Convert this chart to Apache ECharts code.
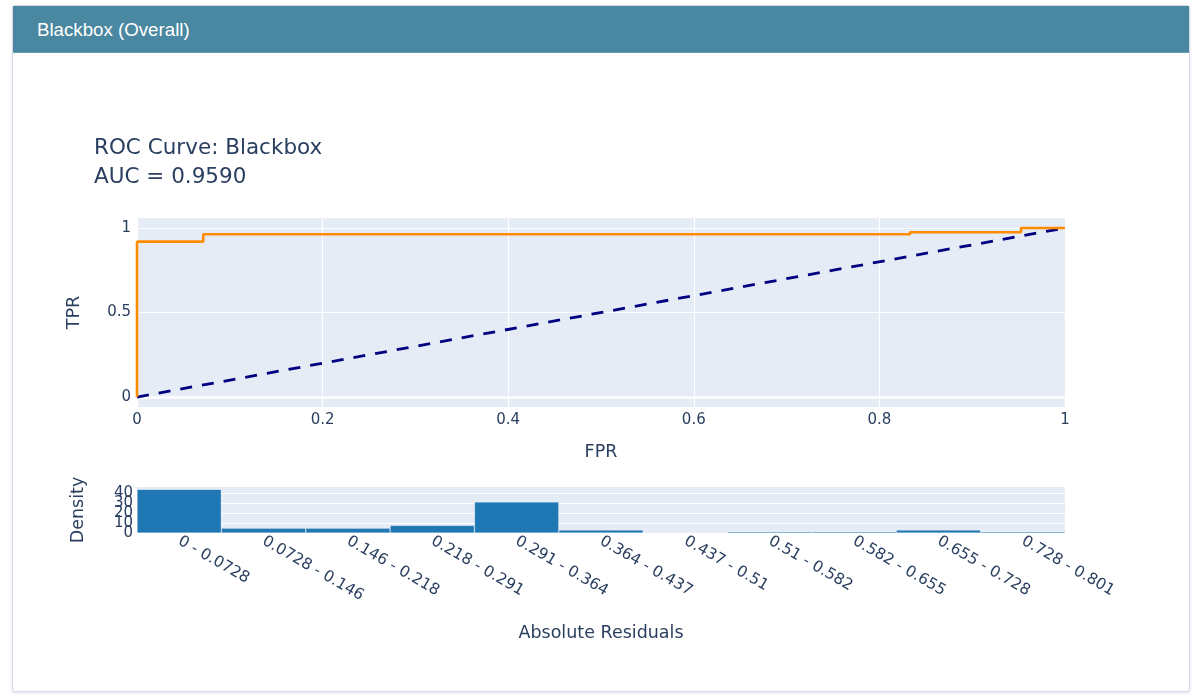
<!DOCTYPE html>
<html>
<head>
<meta charset="utf-8">
<script src="https://cdn.jsdelivr.net/npm/echarts@6/dist/echarts.min.js"></script>
<style>
  html, body { margin: 0; padding: 0; background: #ffffff; width: 1200px; height: 698px; overflow: hidden; }
  .card { position: absolute; left: 12px; top: 5px; width: 1176px; height: 685px; border: 1px solid #d8dbe6; border-radius: 3px; box-shadow: 0 1px 3px rgba(160,165,200,0.35); background: #fff; }
  .card-header { position: absolute; left: 0; top: 0; right: 0; height: 47px; background: #4a87a0; border-bottom: 1px solid #6a9db1; color: #ffffff; font-family: "Liberation Sans", Arial, sans-serif; font-size: 18.7px; line-height: 47px; padding-left: 24px; box-sizing: border-box; }
  #chart { position: absolute; left: 0; top: 0; width: 1200px; height: 698px; }
</style>
</head>
<body>
<div class="card"><div class="card-header">Blackbox (Overall)</div></div>
<div id="chart"></div>
<script>
// ROC curve points (from the picture)
const fpr = [0, 0, 0.0714, 0.0714, 0.833, 0.833, 0.9526, 0.9526, 1];
const tpr = [0, 0.919, 0.919, 0.963, 0.963, 0.975, 0.975, 1, 1];
// Chance diagonal
const diagX = [0, 1];
const diagY = [0, 1];
// Histogram of absolute residuals
const binLabels = ["0 - 0.0728", "0.0728 - 0.146", "0.146 - 0.218", "0.218 - 0.291", "0.291 - 0.364",
  "0.364 - 0.437", "0.437 - 0.51", "0.51 - 0.582", "0.582 - 0.655", "0.655 - 0.728", "0.728 - 0.801"];
const density = [44, 4.8, 4.8, 7.7, 31.3, 3.0, 0, 1.3, 1.3, 3.0, 1.3];
const rocYTicks = [0, 0.5, 1];
const densityTicksA = [0, 20, 40];
const densityTicksB = [10, 30];
const titleText = "ROC Curve: Blackbox\nAUC = 0.9590";

const FONT = '"DejaVu Sans", Verdana, sans-serif';
const TXT = '#2a3f5f';
const chart = echarts.init(document.getElementById('chart'), null, { renderer: 'canvas' });

function densityAxis(ticks, withName) {
  return {
    gridIndex: 1, type: 'value', min: 0, max: 46.3, position: 'left', offset: 0,
    name: withName ? 'Density' : '', nameLocation: 'middle', nameGap: 50,
    nameTextStyle: { fontFamily: FONT, fontSize: 17.5, color: TXT },
    axisLine: { show: false },
    axisTick: { show: false, customValues: ticks },
    axisLabel: { fontFamily: FONT, fontSize: 15, color: TXT, margin: 4, customValues: ticks,
      showMinLabel: true, showMaxLabel: true },
    splitLine: { show: true, lineStyle: { color: '#ffffff', width: 1.2 } }
  };
}

chart.setOption({
  animation: false,
  backgroundColor: 'transparent',
  textStyle: { fontFamily: FONT, color: TXT },
  title: {
    text: titleText,
    left: 89, top: 129,
    textStyle: { fontFamily: FONT, fontSize: 21.5, fontWeight: 'normal', color: TXT, lineHeight: 29 }
  },
  grid: [
    { left: 137, top: 218, width: 928, height: 189, show: true, backgroundColor: '#e5ecf6', borderWidth: 0, containLabel: false },
    { left: 137, top: 487, width: 928, height: 46, show: true, backgroundColor: '#e5ecf6', borderWidth: 0, containLabel: false }
  ],
  xAxis: [
    {
      gridIndex: 0, type: 'value', min: 0, max: 1, interval: 0.2,
      name: 'FPR', nameLocation: 'middle', nameGap: 36,
      nameTextStyle: { fontFamily: FONT, fontSize: 17.5, color: TXT },
      axisLine: { show: false }, axisTick: { show: false },
      axisLabel: { fontFamily: FONT, fontSize: 15, color: TXT, margin: 6 },
      splitLine: { show: true, lineStyle: { color: '#ffffff', width: 1.2 } }
    },
    {
      gridIndex: 1, type: 'category', data: binLabels,
      name: 'Absolute Residuals', nameLocation: 'middle', nameGap: 91,
      nameTextStyle: { fontFamily: FONT, fontSize: 17.5, color: TXT },
      axisLine: { show: false }, axisTick: { show: false },
      axisLabel: { fontFamily: FONT, fontSize: 15.5, color: TXT, rotate: -30, margin: 7, interval: 0 },
      splitLine: { show: false }
    }
  ],
  yAxis: [
    {
      gridIndex: 0, type: 'value', min: -0.059, max: 1.059,
      name: 'TPR', nameLocation: 'middle', nameGap: 54,
      nameTextStyle: { fontFamily: FONT, fontSize: 17.5, color: TXT },
      axisLine: { show: false },
      axisTick: { show: false, customValues: rocYTicks },
      axisLabel: { fontFamily: FONT, fontSize: 15, color: TXT, margin: 6, customValues: rocYTicks },
      splitLine: { show: true, lineStyle: { color: '#ffffff', width: 1.2 } }
    },
    densityAxis(densityTicksA, true),
    densityAxis(densityTicksB, false)
  ],
  series: [
    {
      // white zero line (Plotly-style zeroline)
      type: 'line', xAxisIndex: 0, yAxisIndex: 0, data: [], symbol: 'none', z: 1,
      markLine: {
        silent: true, symbol: 'none', label: { show: false }, z: 1,
        lineStyle: { color: '#ffffff', width: 2.5, type: 'solid' },
        data: [{ yAxis: 0 }]
      }
    },
    {
      type: 'line', xAxisIndex: 0, yAxisIndex: 0,
      data: diagX.map((x, i) => [x, diagY[i]]),
      showSymbol: false, symbol: 'none',
      lineStyle: { color: '#000080', width: 2.8, type: [12, 10] },
      z: 3
    },
    {
      type: 'line', xAxisIndex: 0, yAxisIndex: 0,
      data: fpr.map((x, i) => [x, tpr[i]]),
      showSymbol: false, symbol: 'none',
      lineStyle: { color: '#ff8c00', width: 2.6 },
      z: 4
    },
    {
      type: 'bar', xAxisIndex: 1, yAxisIndex: 1,
      data: density, barCategoryGap: '0%',
      itemStyle: { color: '#1f77b4', borderColor: 'rgba(255,255,255,0.35)', borderWidth: 0.7 }
    }
  ]
});
</script>
</body>
</html>
